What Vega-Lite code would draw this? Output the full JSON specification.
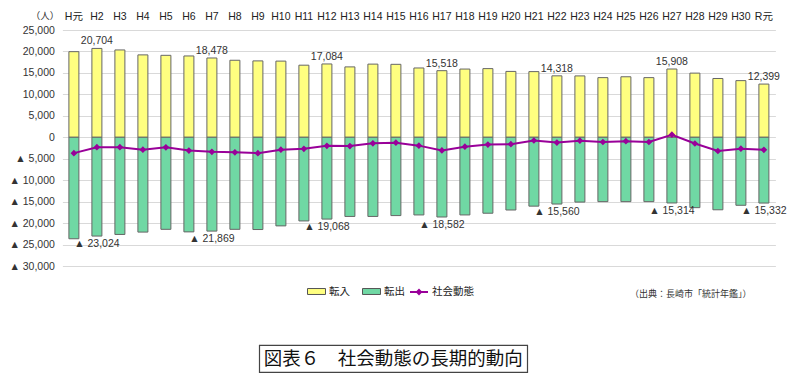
{
  "$schema": "https://vega.github.io/schema/vega-lite/v6.json",
  "background": "white",
  "padding": {"left": 8, "top": 10, "right": 10, "bottom": 5},
  "center": true,
  "spacing": 45,
  "config": {
    "font": "Liberation Sans Narrow, Liberation Sans, Noto Sans CJK JP",
    "view": {"stroke": null},
    "axisY": {"tickCount": 12, "labelOverlap": false}
  },
  "vconcat": [
    {
      "width": 713,
      "height": 236,
      "data": {
        "values": [
          {"year": "H元", "転入": 19950, "転出": -23650, "社会動態": -3700},
          {"year": "H2", "転入": 20704, "転出": -23024, "社会動態": -2320},
          {"year": "H3", "転入": 20350, "転出": -22650, "社会動態": -2300},
          {"year": "H4", "転入": 19200, "転出": -22100, "社会動態": -2900},
          {"year": "H5", "転入": 19100, "転出": -21450, "社会動態": -2350},
          {"year": "H6", "転入": 18950, "転出": -22050, "社会動態": -3100},
          {"year": "H7", "転入": 18478, "転出": -21869, "社会動態": -3391},
          {"year": "H8", "転入": 17950, "転出": -21450, "社会動態": -3500},
          {"year": "H9", "転入": 17800, "転出": -21500, "社会動態": -3700},
          {"year": "H10", "転入": 17750, "転出": -20650, "社会動態": -2900},
          {"year": "H11", "転入": 16800, "転出": -19500, "社会動態": -2700},
          {"year": "H12", "転入": 17084, "転出": -19068, "社会動態": -1984},
          {"year": "H13", "転入": 16400, "転出": -18450, "社会動態": -2050},
          {"year": "H14", "転入": 17050, "転出": -18450, "社会動態": -1400},
          {"year": "H15", "転入": 17000, "転出": -18250, "社会動態": -1250},
          {"year": "H16", "転入": 16150, "転出": -18100, "社会動態": -1950},
          {"year": "H17", "転入": 15518, "転出": -18582, "社会動態": -3064},
          {"year": "H18", "転入": 15900, "転出": -18100, "社会動態": -2200},
          {"year": "H19", "転入": 16000, "転出": -17700, "社会動態": -1700},
          {"year": "H20", "転入": 15350, "転出": -16950, "社会動態": -1600},
          {"year": "H21", "転入": 15300, "転出": -16050, "社会動態": -750},
          {"year": "H22", "転入": 14318, "転出": -15560, "社会動態": -1242},
          {"year": "H23", "転入": 14300, "転出": -15100, "社会動態": -800},
          {"year": "H24", "転入": 13900, "転出": -15000, "社会動態": -1100},
          {"year": "H25", "転入": 14100, "転出": -15000, "社会動態": -900},
          {"year": "H26", "転入": 13900, "転出": -15000, "社会動態": -1100},
          {"year": "H27", "転入": 15908, "転出": -15314, "社会動態": 594},
          {"year": "H28", "転入": 14950, "転出": -16400, "社会動態": -1450},
          {"year": "H29", "転入": 13700, "転出": -16900, "社会動態": -3200},
          {"year": "H30", "転入": 13200, "転出": -15850, "社会動態": -2650},
          {"year": "R元", "転入": 12399, "転出": -15332, "社会動態": -2933}
        ]
      },
      "title": {
        "text": "（出典：長崎市「統計年鑑」）",
        "orient": "bottom",
        "anchor": "end",
        "fontSize": 9,
        "fontWeight": "normal",
        "font": "Noto Sans CJK JP",
        "color": "#333",
        "offset": 18,
        "dx": -35
      },
      "encoding": {
        "x": {
          "field": "year",
          "type": "ordinal",
          "sort": null,
          "scale": {"paddingInner": 0.565, "paddingOuter": 0.2825},
          "axis": {
            "orient": "top",
            "title": null,
            "labelAngle": 0,
            "labelOverlap": false,
            "domain": false,
            "ticks": false,
            "grid": false,
            "labelPadding": 9,
            "labelFontSize": 10.5,
            "labelColor": "#222"
          }
        }
      },
      "layer": [
        {
          "transform": [{"fold": ["転入", "転出"], "as": ["series", "value"]}],
          "mark": {"type": "bar", "stroke": "#666", "strokeWidth": 1},
          "encoding": {
            "y": {
              "field": "value",
              "type": "quantitative",
              "stack": null,
              "scale": {"domain": [-30000, 25000], "nice": false},
              "axis": {
                "values": [-30000, -25000, -20000, -15000, -10000, -5000, 0, 5000, 10000, 15000, 20000, 25000],
                "tickCount": 12,
                "labelExpr": "datum.value < 0 ? '▲ ' + format(-datum.value, ',') : format(datum.value, ',')",
                "labelOverlap": false,
                "title": "（人）",
                "titleAngle": 0,
                "titleX": -18,
                "titleY": -15,
                "titleAlign": "center",
                "titleBaseline": "middle",
                "titleFontSize": 9.5,
                "titleFontWeight": "normal",
                "titleColor": "#333",
                "domain": false,
                "ticks": false,
                "labelPadding": 8,
                "labelFontSize": 10.5,
                "labelColor": "#333",
                "gridColor": "#d9d9d9"
              }
            },
            "color": {
              "field": "series",
              "type": "nominal",
              "scale": {"domain": ["転入", "転出"], "range": ["#FFFF80", "#70D8A4"]},
              "legend": {
                "title": null,
                "orient": "none",
                "legendX": 245,
                "legendY": 252,
                "direction": "horizontal",
                "symbolType": "M-1,-0.33H1V0.33H-1Z",
                "symbolSize": 324,
                "symbolStrokeColor": "#555",
                "symbolStrokeWidth": 1,
                "labelFontSize": 10.5,
                "labelFont": "Noto Sans CJK JP",
                "labelColor": "#222",
                "labelOffset": 3,
                "columnPadding": 10
              }
            }
          }
        },
        {
          "transform": [{"filter": {"field": "year", "oneOf": ["H2", "H7", "H12", "H17", "H22", "H27", "R元"]}}],
          "mark": {"type": "text", "baseline": "bottom", "dy": -2, "fontSize": 10.5, "color": "#333"},
          "encoding": {
            "y": {"field": "転入", "type": "quantitative"},
            "text": {"field": "転入", "type": "quantitative", "format": ","}
          }
        },
        {
          "transform": [
            {"filter": {"field": "year", "oneOf": ["H2", "H7", "H12", "H17", "H22", "H27", "R元"]}},
            {"calculate": "'▲ ' + format(-datum['転出'], ',')", "as": "outLabel"}
          ],
          "mark": {"type": "text", "baseline": "top", "dy": 3, "fontSize": 10.5, "color": "#333"},
          "encoding": {
            "y": {"field": "転出", "type": "quantitative"},
            "text": {"field": "outLabel", "type": "nominal"}
          }
        },
        {
          "mark": {"type": "line", "strokeWidth": 2},
          "encoding": {
            "y": {"field": "社会動態", "type": "quantitative"},
            "stroke": {
              "datum": "社会動態",
              "type": "nominal",
              "scale": {"domain": ["社会動態"], "range": ["#990099"]},
              "legend": {
                "title": null,
                "orient": "none",
                "legendX": 347,
                "legendY": 252,
                "symbolType": "M-1,0H1M-0.22,0L0,-0.22L0.22,0L0,0.22Z",
                "symbolSize": 324,
                "symbolStrokeWidth": 2,
                "symbolFillColor": "#990099",
                "labelFontSize": 10.5,
                "labelFont": "Noto Sans CJK JP",
                "labelColor": "#222",
                "labelOffset": 3
              }
            }
          }
        },
        {
          "mark": {"type": "point", "shape": "diamond", "filled": true, "size": 45, "color": "#990099", "opacity": 1},
          "encoding": {
            "y": {"field": "社会動態", "type": "quantitative"}
          }
        }
      ]
    },
    {
      "width": 268,
      "height": 27,
      "view": {"stroke": "#444", "strokeWidth": 1.2},
      "title": {"text": "・", "orient": "right", "angle": 0, "color": "transparent", "offset": 50, "fontSize": 8},
      "data": {"values": [{"t": "図表６　社会動態の長期的動向"}]},
      "mark": {"type": "text", "fontSize": 18.5, "font": "Noto Sans CJK JP", "color": "#111"},
      "encoding": {"text": {"field": "t", "type": "nominal"}}
    }
  ]
}
